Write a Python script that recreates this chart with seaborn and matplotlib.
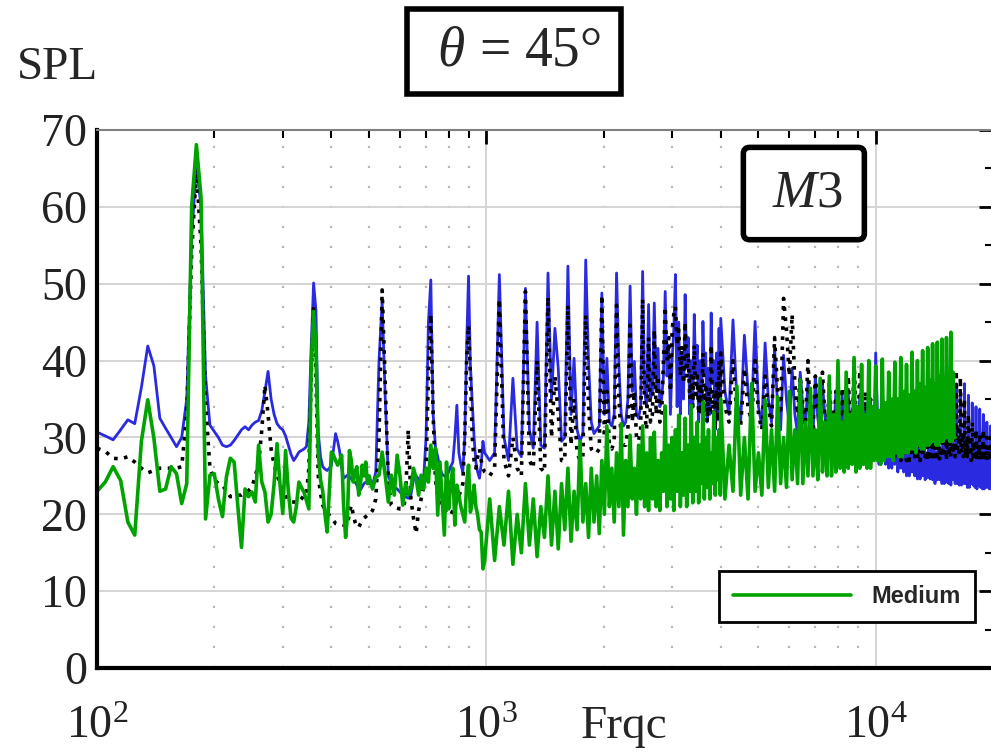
import matplotlib
matplotlib.use('Agg')
import matplotlib.pyplot as plt
import seaborn as sns
from matplotlib.ticker import LogLocator, MultipleLocator, NullFormatter

# frequency bins (Hz) of the spectra
freq_a = list(range(100, 500, 5))
freq_b = list(range(500, 1000, 10))
freq_c = list(range(1020, 4000, 30))
freq_d = list(range(4000, 20001, 100))
freq = freq_a + freq_b + freq_c + freq_d

# blue solid spectrum
spl_blue = [
    # 100 - 495 Hz
    30.7, 30.2, 29.7, 31.0, 32.3, 31.8, 36.5, 41.9, 39.3, 32.5,
    31.2, 30.0, 28.8, 30.0, 35.0, 56.0, 65.5, 60.0, 38.0, 31.6,
    30.8, 30.0, 29.0, 28.8, 29.0, 29.6, 30.3, 31.0, 31.4, 31.0,
    31.6, 32.0, 32.2, 33.5, 36.0, 38.6, 35.0, 33.0, 31.8, 31.3,
    31.0, 30.2, 29.0, 27.8, 27.0, 27.5, 28.1, 28.3, 28.5, 28.8,
    32.0, 42.0, 50.1, 46.5, 30.7, 27.5, 26.2, 25.9, 25.7, 26.0,
    26.4, 28.5, 30.5, 29.5, 28.2, 26.0, 24.7, 24.9, 25.1, 24.9,
    24.6, 24.3, 24.2, 23.8, 23.0, 23.2, 23.6, 24.0, 24.2, 24.1,
    # 500 - 990 Hz
    24.0, 23.8, 25.5, 40.0, 47.7, 35.0, 25.0, 24.0, 23.6, 23.3,
    22.9, 22.5, 22.3, 22.1, 22.5, 24.5, 25.0, 24.6, 24.2, 24.5,
    30.0, 45.0, 50.5, 33.0, 28.8, 27.5, 26.0, 25.2, 25.0, 24.8,
    25.5, 26.2, 26.8, 30.0, 34.2, 28.0, 26.5, 25.5, 30.0, 42.0,
    51.0, 39.4, 34.5, 30.0, 26.8, 25.5, 24.7, 26.5, 29.5, 28.0,
    # 1020 - 3990 Hz
    27, 28, 51.2, 30, 27, 37.7, 28.5, 27.5, 49.4, 31,
    28.6, 45, 29, 28.6, 51.4, 35, 44.2, 39, 29.5, 30,
    52.3, 33, 40.3, 31, 29.5, 30.5, 53.1, 39.9, 32, 30.5,
    31, 31.5, 48.8, 33, 40.3, 32, 31.5, 33, 51.4, 39.4,
    33, 31.5, 32, 35, 49.7, 36, 39.9, 33, 32.5, 34,
    51.6, 36, 34, 47.3, 35, 36, 47.5, 36, 41.6, 34,
    35, 38, 49, 38, 42, 33, 40, 44, 51.2, 34,
    45, 33, 41, 35, 48.6, 39, 43, 33, 40, 34,
    46, 38, 42, 32, 40, 34, 45.1, 38, 41, 32,
    39, 33, 46.2, 37, 40, 31, 41, 33, 44.2, 32,
    # 4000 - 20000 Hz
    45.5, 36, 33, 45.3, 35, 32, 43.3, 36, 33,
    45.1, 34, 31.5, 42.3, 35, 32, 41.6, 34, 31,
    40.7, 35, 31.5, 39, 33, 30.5, 38.5, 34, 31,
    37.5, 33, 30, 38, 32.5, 30.5, 37, 33, 29.8,
    36.3, 32, 30, 36, 31.5, 29.5, 35.5, 32, 29,
    36, 31, 28.5, 35, 31.5, 28.5, 35.5, 30.5, 28,
    34.5, 31, 27.8, 35, 30, 27.6,
    41,
    33.5, 26.5, 30, 27, 33, 26.5, 29.5, 26, 32.5, 26, 30, 26.5,
    33, 25.5, 29, 26, 32, 25.5, 29.5, 25, 32.5, 25, 29, 25.5,
    31.5, 25, 28.5, 24.6, 32, 24.6, 28.5, 25, 31.5, 24.5, 28, 24.8,
    31, 24.6, 28.5, 24.5, 32, 24, 28, 24.5, 33, 24.5, 28, 24,
    33.5, 24, 27.5, 24.2, 34, 24, 28, 23.8, 35, 24.5, 27.5, 24,
    37, 24, 28, 23.8, 36, 23.8, 27, 24, 37, 24, 27.5, 23.5,
    35.5, 23.5, 27, 24, 34.5, 23.8, 26.5, 23.5, 34, 23.3, 27, 23.8,
    33.7, 23.5, 26.5, 23.3, 33, 23.3, 26, 23.5, 32, 23.5, 26.5, 23.3,
    31.5, 23.3, 26, 23.5,
]

# black dotted spectrum
spl_black = [
    # 100 - 495 Hz
    28.6, 28.2, 27.3, 27.2, 27.5, 26.8, 26.0, 25.4, 25.7, 26.0,
    26.0, 26.0, 26.0, 26.2, 33.0, 54.0, 65.0, 55.0, 34.5, 26.0,
    24.5, 24.0, 23.8, 23.0, 22.3, 22.4, 22.5, 22.5, 22.8, 23.1,
    23.5, 25.0, 26.5, 31.0, 36.8, 33.0, 28.5, 26.5, 25.0, 24.2,
    23.2, 22.5, 21.8, 21.6, 21.6, 21.6, 21.6, 22.0, 22.5, 22.5,
    26.0, 38.0, 47.0, 38.0, 25.0, 22.7, 21.2, 20.5, 20.2, 19.9,
    19.5, 19.2, 18.8, 18.7, 18.7, 18.7, 18.6, 18.6, 18.6, 20.3,
    21.2, 20.0, 19.0, 18.4, 18.3, 18.8, 19.2, 19.5, 19.7, 19.9,
    # 500 - 990 Hz
    19.9, 20.5, 22.0, 30.0, 49.2, 37.0, 24.2, 21.2, 20.9, 20.8,
    20.7, 20.7, 22.0, 31.0, 22.0, 19.5, 17.5, 20.5, 22.0, 23.5,
    26.0, 38.0, 46.0, 33.0, 24.5, 22.5, 21.5, 21.0, 20.5, 20.3,
    20.0, 19.9, 20.5, 21.0, 22.0, 22.5, 23.0, 24.0, 30.0, 40.0,
    44.6, 38.0, 30.0, 27.0, 26.0, 27.5, 28.5, 27.0, 26.0, 25.5,
    # 1020 - 3990 Hz
    25, 26, 48, 27, 25, 30, 26, 25, 49, 27,
    26, 40, 26, 25.5, 48.3, 30, 38, 33, 27, 27,
    47.2, 29, 35, 28, 27, 27.5, 45.9, 34, 28.5, 28,
    28, 28.5, 48.5, 30, 36, 29, 28.5, 29.5, 47.2, 35,
    30, 29, 29, 31, 44.6, 32, 36, 30, 29.5, 31,
    48, 33, 31, 43, 32, 33, 44, 33, 38, 32,
    33, 40, 47, 40, 43, 36, 44, 46, 47, 42,
    44, 38, 42, 37, 45, 38, 41, 35, 38, 34,
    42, 35, 38, 33, 37, 33, 41, 34, 37, 32,
    36, 33, 42, 33, 36, 31, 37, 32, 40, 33,
    # 4000 - 20000 Hz
    41, 34, 32, 40, 33, 31.5, 39, 34, 32,
    40, 33, 31, 38, 34, 31.5, 43, 36, 33,
    48.1, 44, 38, 46, 37, 33, 38, 34, 31.5,
    40, 33, 31, 38, 34, 31, 38.5, 33, 30.5,
    37, 32.5, 30, 36, 32, 30, 36.5, 31.5, 29.5,
    38, 32, 29.5, 40, 33, 29, 38.7, 32, 29,
    36, 31, 28.5, 35, 31, 28.5,
    34,
    32, 28, 30, 27.5, 31.5, 28, 30, 27.5, 32, 27.5, 29.5, 27.5,
    31, 27.5, 29.5, 27, 31.5, 27.5, 29, 27, 31, 27, 29.5, 27.5,
    31, 27.5, 29, 27, 30.5, 27, 29, 27.5, 31, 27.5, 29.5, 27,
    31, 27, 29, 27.5, 31.5, 27.5, 29.5, 27, 32, 27, 29.5, 27.5,
    32, 27.5, 30, 27, 33, 27.5, 30, 27.5, 34, 28, 30.5, 27.5,
    38.7, 28, 31, 27.5, 37.8, 28, 30.5, 27.5, 35, 27.5, 30, 27.5,
    33, 27.5, 29.5, 27, 32, 27.5, 29.5, 27, 31, 27, 29, 27.5,
    30.5, 27, 29, 27, 31, 27.5, 29, 27, 30, 27, 28.5, 27.5,
    30, 27, 28.5, 27,
]

# green "Medium" spectrum (stops at 16 kHz)
spl_medium = [
    # 100 - 495 Hz
    23.0, 24.2, 26.2, 24.4, 19.0, 17.3, 29.5, 34.9, 29.9, 23.0,
    23.3, 26.2, 25.3, 21.4, 24.0, 60.0, 68.1, 61.2, 19.4, 25.1,
    25.3, 22.0, 19.7, 24.9, 27.3, 26.8, 21.0, 15.7, 23.3, 22.3,
    22.9, 21.6, 29.0, 24.2, 22.9, 19.0, 20.0, 24.0, 29.2, 24.0,
    20.1, 28.3, 23.0, 19.5, 19.0, 21.0, 24.2, 23.5, 22.9, 21.8,
    20.7, 39.4, 46.4, 41.6, 28.0, 24.5, 23.0, 20.0, 17.7, 23.0,
    28.1, 27.7, 27.0, 26.4, 27.0, 27.7, 21.0, 17.0, 20.0, 28.3,
    27.0, 24.2, 25.5, 26.2, 22.5, 24.0, 26.4, 25.0, 26.8, 24.0,
    # 500 - 990 Hz
    25.0, 23.3, 24.8, 25.1, 28.1, 25.0, 21.6, 25.1, 22.5, 27.7,
    25.0, 21.2, 24.0, 22.5, 23.3, 26.0, 24.7, 22.5, 25.1, 23.3,
    26.0, 24.2, 29.0, 26.0, 28.6, 19.9, 26.8, 22.0, 17.3, 26.8,
    20.7, 24.0, 26.0, 18.6, 23.8, 22.5, 21.0, 20.0, 19.0, 24.0,
    26.4, 20.3, 21.6, 23.8, 21.0, 19.9, 18.0, 17.7, 12.9, 14.0,
    # 1020 - 3990 Hz
    22, 14, 21, 16, 23, 13.5, 20, 15, 24, 16,
    22, 14.5, 21, 17, 25, 16, 23, 15.5, 24, 18,
    26, 16.5, 23, 18, 29.5, 19, 24, 17, 26, 19,
    25, 17.5, 27, 20, 31.5, 21, 26, 19, 28, 21,
    31.8, 17.3, 27, 21, 30.3, 22, 26, 20, 29, 22,
    31.5, 21, 28, 20.5, 30, 22, 30.7, 21, 27, 20.5,
    28, 23, 34.1, 21, 29, 22, 30, 20.5, 31, 23,
    32.9, 21, 28, 22.5, 32.5, 21, 29, 23, 34.2, 21.5,
    30, 23, 32, 21.5, 29, 24, 34.6, 22, 30, 23.5,
    31, 22, 28, 24, 33.3, 22.5, 30, 24.5, 31, 22.5,
    # 4000 - 16000 Hz
    35, 22, 29, 23, 36.7, 22.5, 30, 22, 37, 23, 28, 22.5,
    34.9, 23.5, 31, 23, 35.3, 24, 30, 23.5, 36, 24.5, 31, 24,
    37.5, 24, 32, 25, 36.4, 25, 31, 24.5, 37.7, 25.5, 32, 25,
    38, 25, 33, 25.5, 40, 26, 32, 25.5, 38.5, 26, 33, 26.5,
    40.4, 25.5, 34, 26, 39.5, 26.5, 33, 26, 40, 26, 34, 27,
    39.3, 27, 33.5, 26.5, 40.2, 27, 34.5, 27.5, 38.5, 27.5, 35, 27,
    39.8, 28, 35, 27.5, 40.4, 27.5, 36, 28, 39.5, 28, 35.5, 28.5,
    41.1, 28.5, 36, 28, 40, 29, 37, 28.5, 41.3, 28.5, 36.5, 29,
    41.7, 29, 37.5, 29.5, 42.2, 29.5, 37, 29, 42.4, 29, 38, 29.5,
    42.8, 29.5, 37.5, 30, 43, 30, 38, 29.5, 43.7, 29.5, 38.5, 30,
    30,
]

sns.set_style('white')
plt.rcParams['font.family'] = ['Liberation Serif', 'DejaVu Serif']
plt.rcParams['mathtext.fontset'] = 'custom'
plt.rcParams['mathtext.rm'] = 'Liberation Serif'
plt.rcParams['mathtext.it'] = 'Liberation Serif:italic'

fig = plt.figure(figsize=(9.91, 7.54), dpi=100)
ax = fig.add_axes([0.0979, 0.114, 0.904, 0.7135])

sns.lineplot(x=freq, y=spl_blue, ax=ax, color='#2a2ae0', lw=2.0,
             sort=False, estimator=None)
sns.lineplot(x=freq, y=spl_black, ax=ax, color='black', lw=2.6,
             linestyle=(0, (1, 1.8)), sort=False, estimator=None)
sns.lineplot(x=freq[:len(spl_medium)], y=spl_medium, ax=ax, color='#00a300',
             lw=2.6, sort=False, estimator=None)
green_line = ax.lines[-1]

ax.set_xscale('log')
ax.set_xlim(100, 20000)
ax.set_ylim(0, 70)
ax.xaxis.set_major_locator(LogLocator(base=10))
ax.xaxis.set_minor_locator(LogLocator(base=10, subs=range(2, 10)))
ax.xaxis.set_minor_formatter(NullFormatter())
ax.yaxis.set_major_locator(MultipleLocator(10))
ax.yaxis.set_minor_locator(MultipleLocator(5))
ax.set_xlabel('')
ax.set_ylabel('')

ax.grid(which='major', axis='both', color='#d4d4d4', lw=1.4, ls='-')
ax.grid(which='minor', axis='x', color='#b8b8b8', lw=1.6, ls=(0, (1, 8)))
ax.set_axisbelow(True)

ax.tick_params(axis='both', which='both', direction='in', top=True, right=True,
               colors='black', labelcolor='#222222')
ax.tick_params(axis='both', which='major', length=10, width=2, labelsize=33)
ax.tick_params(axis='both', which='minor', length=6, width=1.5)
ax.tick_params(axis='x', which='major', pad=27)
ax.tick_params(axis='y', which='major', pad=7)

for side in ['left', 'bottom']:
    ax.spines[side].set_linewidth(3)
    ax.spines[side].set_color('black')
ax.spines['top'].set_linewidth(1.5)
ax.spines['top'].set_color('#808080')
ax.spines['right'].set_linewidth(1.5)

leg = ax.legend(handles=[green_line], labels=['Medium'], loc='lower right',
                bbox_to_anchor=(0.98, 0.0855), borderaxespad=0, frameon=True,
                fancybox=False, edgecolor='black', framealpha=1,
                prop={'family': 'Liberation Sans', 'weight': 'bold', 'size': 17},
                handlelength=5.0, handletextpad=0.85, borderpad=0.6)
leg.get_frame().set_linewidth(2)

ax.text(0.789, 0.882, r'$\,M$3$\,$', transform=ax.transAxes, fontsize=38,
        ha='center', va='center',
        bbox=dict(boxstyle='round,pad=0.42,rounding_size=0.12', fc='white',
                  ec='black', lw=4))

fig.text(0.058, 0.91, 'SPL', fontsize=34, ha='center', va='center')
fig.text(0.5187, 0.9317, r' $\theta$ = 45° ', fontsize=40, ha='center', va='center',
         bbox=dict(boxstyle='square,pad=0.3', fc='white', ec='black', lw=4))
fig.text(0.6297, 0.0358, 'Frqc', fontsize=34, ha='center', va='center')

plt.savefig('out.png', dpi=100)
